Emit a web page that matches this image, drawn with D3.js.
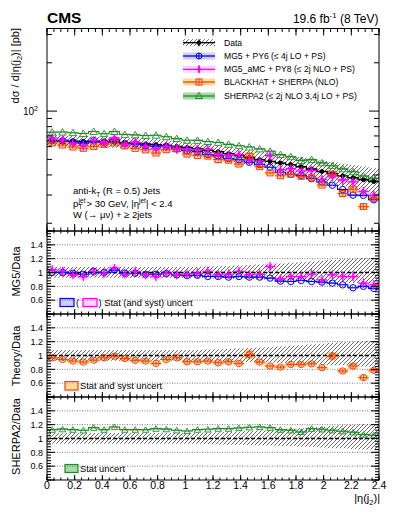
<!DOCTYPE html>
<html><head><meta charset="utf-8">
<script src="https://cdn.jsdelivr.net/npm/d3@7"></script>
<style>
body{margin:0;background:#fff}
text{font-family:"Liberation Sans",Arial,Helvetica,sans-serif;fill:#000}
</style>
</head><body>
<svg id="c" width="399" height="516"></svg>
<script>
// ---------------- DATA ----------------
const etaEdges = [0,0.075,0.15,0.225,0.3,0.375,0.45,0.525,0.6,0.675,0.75,0.825,0.9,0.975,1.05,1.125,1.2,1.275,1.35,1.425,1.5,1.575,1.65,1.725,1.8,1.875,1.95,2.025,2.1,2.175,2.25,2.325,2.4];
const dataXsec = [65.5,65.2,65.0,64.8,64.5,64.1,63.9,63.4,63.0,62.4,61.8,61.0,60.2,59.3,58.2,57.0,55.8,54.3,52.8,51.4,49.8,48.6,47.5,46.4,45.0,43.6,42.0,40.8,39.5,38.4,37.3,36.4];
const dataStat = [0.010,0.010,0.010,0.010,0.010,0.010,0.010,0.010,0.010,0.010,0.010,0.010,0.011,0.011,0.011,0.011,0.012,0.012,0.012,0.012,0.013,0.013,0.013,0.013,0.014,0.014,0.014,0.015,0.015,0.015,0.016,0.016];
const dataSystUp = [0.08,0.08,0.08,0.08,0.08,0.08,0.08,0.08,0.08,0.08,0.08,0.08,0.08,0.08,0.08,0.085,0.09,0.095,0.10,0.11,0.115,0.12,0.13,0.14,0.15,0.16,0.17,0.18,0.19,0.20,0.21,0.21];
const dataSystDn = [0.075,0.075,0.075,0.075,0.075,0.075,0.075,0.075,0.075,0.075,0.075,0.075,0.075,0.075,0.075,0.08,0.085,0.09,0.09,0.095,0.10,0.10,0.11,0.11,0.12,0.12,0.13,0.14,0.14,0.15,0.16,0.16];

const mg5Ratio = [1.0,1.0,0.99,0.975,1.015,1.0,1.035,0.99,0.99,0.975,0.975,0.985,0.965,0.955,0.96,0.942,0.942,0.933,0.942,0.933,0.933,0.919,0.875,0.87,0.884,0.87,0.861,0.846,0.822,0.78,0.80,0.77];
const mg5Stat = [0.012,0.012,0.012,0.012,0.012,0.012,0.012,0.012,0.012,0.012,0.013,0.013,0.013,0.013,0.013,0.014,0.014,0.014,0.014,0.015,0.015,0.015,0.015,0.016,0.016,0.016,0.017,0.017,0.018,0.018,0.019,0.02];

const amcRatio = [1.04,1.015,0.967,0.942,1.015,0.99,1.064,0.977,1.015,0.967,0.942,0.99,0.967,0.977,0.99,1.015,0.967,0.977,1.015,0.967,0.977,1.087,0.909,0.942,0.942,0.977,0.894,0.967,0.942,0.942,0.846,0.822];
const amcErr = [0.07,0.07,0.065,0.07,0.065,0.07,0.06,0.065,0.07,0.065,0.07,0.065,0.07,0.065,0.07,0.07,0.065,0.07,0.065,0.07,0.065,0.07,0.065,0.07,0.065,0.07,0.065,0.07,0.07,0.07,0.07,0.07];
const amcBand = [0.05,0.05,0.05,0.05,0.05,0.05,0.05,0.05,0.05,0.05,0.05,0.05,0.05,0.05,0.05,0.05,0.05,0.05,0.05,0.05,0.05,0.055,0.05,0.05,0.05,0.05,0.05,0.05,0.05,0.05,0.05,0.05];

const bhRatio = [0.967,0.943,0.919,0.905,0.933,0.967,0.99,0.957,0.93,0.919,0.886,0.943,0.967,0.91,0.91,0.919,0.895,0.91,0.886,1.014,0.905,0.848,0.833,0.871,0.871,0.88,0.824,0.99,0.776,0.848,0.681,0.786];
const bhErr = [0.025,0.025,0.025,0.025,0.025,0.025,0.025,0.025,0.025,0.025,0.025,0.025,0.025,0.025,0.025,0.025,0.025,0.025,0.025,0.07,0.025,0.025,0.025,0.025,0.025,0.025,0.025,0.06,0.03,0.04,0.04,0.03];
const bhBand = [0.035,0.035,0.035,0.035,0.035,0.035,0.035,0.035,0.035,0.035,0.035,0.035,0.035,0.035,0.035,0.035,0.035,0.035,0.035,0.07,0.035,0.035,0.035,0.035,0.035,0.035,0.035,0.06,0.035,0.045,0.04,0.035];

const sherpaRatio = [1.128,1.135,1.128,1.119,1.157,1.128,1.167,1.128,1.128,1.128,1.143,1.135,1.119,1.109,1.128,1.133,1.143,1.143,1.152,1.162,1.167,1.157,1.128,1.119,1.095,1.143,1.133,1.119,1.105,1.09,1.057,1.047];
const sherpaStat = [0.012,0.012,0.012,0.012,0.012,0.012,0.012,0.012,0.012,0.012,0.012,0.012,0.012,0.012,0.012,0.012,0.012,0.012,0.013,0.013,0.013,0.013,0.013,0.013,0.014,0.014,0.014,0.014,0.015,0.015,0.015,0.015];

const xTickVals = [0,0.2,0.4,0.6,0.8,1,1.2,1.4,1.6,1.8,2,2.2,2.4];
const xTickLabels = ["0","0.2","0.4","0.6","0.8","1","1.2","1.4","1.6","1.8","2","2.2","2.4"];
const ratioTickVals = [0.6,0.8,1,1.2,1.4];
const ratioTickLabels = ["0.6","0.8","1","1.2","1.4"];
const mainMinorY = [20,30,40,50,60,70,80,90,200,300];

const legendLabels = ["Data","MG5 + PY6 (\u2264 4j LO + PS)","MG5_aMC + PY8 (\u2264 2j NLO + PS)","BLACKHAT + SHERPA (NLO)","SHERPA2 (\u2264 2j NLO 3,4j LO + PS)"];

// ---------------- STYLE ----------------
const C = {
  blue:"#0000ff", blueBand:"rgba(120,130,255,0.38)",
  mag:"#ff00ff", magBand:"rgba(255,120,255,0.30)",
  orange:"#ff3b10", orangeBand:"rgba(255,190,60,0.55)",
  green:"#22882a", greenBand:"rgba(60,170,60,0.45)"
};

const svg = d3.select("#c");
const X0 = 47, X1 = 379;
const x = d3.scaleLinear([0,2.4],[X0,X1]);
const mainP = {top:28.5, bottom:231};
const yM = d3.scaleLog([17.9,327],[mainP.bottom, mainP.top]);
const panels = [{top:231,bottom:314},{top:314,bottom:397},{top:397,bottom:480}];
panels.forEach(p => p.y = d3.scaleLinear([0.4,1.6],[p.bottom,p.top]));

const defs = svg.append("defs");
const pat = defs.append("pattern").attr("id","hatch").attr("patternUnits","userSpaceOnUse").attr("width",4).attr("height",4);
pat.append("path").attr("d","M-1,1 l2,-2 M0,4 l4,-4 M3,5 l2,-2").attr("stroke","#3a3a3a").attr("stroke-width",0.75);

function clip(id, top, bottom){
  defs.append("clipPath").attr("id",id).append("rect").attr("x",X0).attr("y",top).attr("width",X1-X0).attr("height",bottom-top);
}
clip("cm", mainP.top, mainP.bottom);
panels.forEach((p,i)=>clip("cp"+i, p.top, p.bottom));

const nb = dataXsec.length;
const centers = d3.range(nb).map(i => (etaEdges[i]+etaEdges[i+1])/2);

function stepPath(y, vals){
  const pts = [];
  vals.forEach((v,i)=>{ pts.push([x(etaEdges[i]), y(v)]); pts.push([x(etaEdges[i+1]), y(v)]); });
  return d3.line()(pts);
}
function bandPath(y, lo, hi){
  const pts = [];
  lo.forEach((l,i)=>{ pts.push({a:etaEdges[i], l, h:hi[i]}); pts.push({a:etaEdges[i+1], l, h:hi[i]}); });
  return d3.area().x(d=>x(d.a)).y0(d=>y(d.l)).y1(d=>y(d.h))(pts);
}

// derived series
const mg5 = dataXsec.map((d,i)=>d*mg5Ratio[i]);
const amc = dataXsec.map((d,i)=>d*amcRatio[i]);
const bh = dataXsec.map((d,i)=>d*bhRatio[i]);
const sherpa = dataXsec.map((d,i)=>d*sherpaRatio[i]);

// ---------- helpers for marks ----------
function errBars(g, y, vals, errLo, errHi, color, w, withH){
  const s = g.append("g").attr("stroke",color).attr("stroke-width",w);
  vals.forEach((v,i)=>{
    s.append("line").attr("x1",x(centers[i])).attr("x2",x(centers[i])).attr("y1",y(errLo[i])).attr("y2",y(errHi[i]));
    if(withH) s.append("line").attr("x1",x(etaEdges[i])).attr("x2",x(etaEdges[i+1])).attr("y1",y(v)).attr("y2",y(v));
  });
}
function circles(g, y, vals, color, r, fill){
  g.append("g").selectAll("circle").data(vals).join("circle")
    .attr("cx",(d,i)=>x(centers[i])).attr("cy",d=>y(d)).attr("r",r)
    .attr("fill",fill).attr("stroke",color).attr("stroke-width",1);
}
function squares(g, y, vals, color, s){
  g.append("g").selectAll("rect").data(vals).join("rect")
    .attr("x",(d,i)=>x(centers[i])-s/2).attr("y",d=>y(d)-s/2).attr("width",s).attr("height",s)
    .attr("fill","none").attr("stroke",color).attr("stroke-width",1);
}
function triangles(g, y, vals, color, size){
  const sym = d3.symbol(d3.symbolTriangle).size(size);
  g.append("g").selectAll("path").data(vals).join("path")
    .attr("d",sym).attr("transform",(d,i)=>`translate(${x(centers[i])},${y(d)+0.8})`)
    .attr("fill","none").attr("stroke",color).attr("stroke-width",0.9);
}
function diamonds(g, y, vals, color, size){
  const sym = d3.symbol(d3.symbolDiamond).size(size);
  g.append("g").selectAll("path").data(vals).join("path")
    .attr("d",sym).attr("transform",(d,i)=>`translate(${x(centers[i])},${y(d)})`)
    .attr("fill",color);
}

// ---------------- MAIN PANEL ----------------
const gm = svg.append("g").attr("clip-path","url(#cm)");
gm.append("path").attr("d",bandPath(yM, mg5.map((v,i)=>v*(1-mg5Stat[i])), mg5.map((v,i)=>v*(1+mg5Stat[i])))).attr("fill",C.blueBand);
gm.append("path").attr("d",bandPath(yM, amc.map((v,i)=>v*(1-amcBand[i])), amc.map((v,i)=>v*(1+amcBand[i])))).attr("fill",C.magBand);
gm.append("path").attr("d",bandPath(yM, bh.map((v,i)=>v*(1-bhBand[i])), bh.map((v,i)=>v*(1+bhBand[i])))).attr("fill",C.orangeBand);
gm.append("path").attr("d",bandPath(yM, sherpa.map((v,i)=>v*(1-sherpaStat[i])), sherpa.map((v,i)=>v*(1+sherpaStat[i])))).attr("fill",C.greenBand);
gm.append("path").attr("d",bandPath(yM, dataXsec.map((v,i)=>v*(1-dataSystDn[i])), dataXsec.map((v,i)=>v*(1+dataSystUp[i])))).attr("fill","url(#hatch)");

gm.append("path").attr("d",stepPath(yM, sherpa)).attr("fill","none").attr("stroke",C.green).attr("stroke-width",1.1);
triangles(gm, yM, sherpa, C.green, 24);
gm.append("path").attr("d",stepPath(yM, dataXsec)).attr("fill","none").attr("stroke","#000").attr("stroke-width",1.4);
errBars(gm, yM, dataXsec, dataXsec.map((v,i)=>v*(1-dataStat[i])), dataXsec.map((v,i)=>v*(1+dataStat[i])), "#000", 1.2, false);
circles(gm, yM, dataXsec, "#000", 2, "#000");
gm.append("path").attr("d",stepPath(yM, mg5)).attr("fill","none").attr("stroke",C.blue).attr("stroke-width",1.1);
circles(gm, yM, mg5, C.blue, 3.2, "none");
errBars(gm, yM, bh, bh.map((v,i)=>v*(1-bhErr[i])), bh.map((v,i)=>v*(1+bhErr[i])), C.orange, 1, true);
squares(gm, yM, bh, C.orange, 6);
errBars(gm, yM, amc, amc.map((v,i)=>v*(1-amcErr[i])), amc.map((v,i)=>v*(1+amcErr[i])), C.mag, 1.3, true);
diamonds(gm, yM, amc, C.mag, 14);

// ---------------- RATIO PANELS ----------------
function ratioPanel(idx){
  const p = panels[idx];
  const g = svg.append("g").attr("clip-path",`url(#cp${idx})`);
  return {g, y:p.y, p};
}
function gridAndHatch(rp){
  const {g,y} = rp;
  const gg = g.append("g");
  [0.6,0.8,1.2,1.4].forEach(v=>{
    gg.append("line").attr("x1",X0).attr("x2",X1).attr("y1",y(v)).attr("y2",y(v)).attr("stroke","#777").attr("stroke-width",1).attr("stroke-dasharray","1,1.5");
  });
}
function hatchAndOne(rp){
  const {g,y} = rp;
  g.append("path").attr("d",bandPath(y, dataSystDn.map(v=>1-v), dataSystUp.map(v=>1+v))).attr("fill","url(#hatch)");
  g.append("line").attr("x1",X0).attr("x2",X1).attr("y1",y(1)).attr("y2",y(1)).attr("stroke","#000").attr("stroke-width",1.4).attr("stroke-dasharray","4,2");
}

// Panel 1: MG5
{
  const rp = ratioPanel(0); const {g,y} = rp;
  gridAndHatch(rp);
  g.append("path").attr("d",bandPath(y, amcRatio.map((v,i)=>v-amcBand[i]), amcRatio.map((v,i)=>v+amcBand[i]))).attr("fill",C.magBand);
  g.append("path").attr("d",bandPath(y, mg5Ratio.map((v,i)=>v-mg5Stat[i]), mg5Ratio.map((v,i)=>v+mg5Stat[i]))).attr("fill",C.blueBand);
  hatchAndOne(rp);
  g.append("path").attr("d",stepPath(y, mg5Ratio)).attr("fill","none").attr("stroke",C.blue).attr("stroke-width",1.1);
  circles(g, y, mg5Ratio, C.blue, 3.2, "none");
  errBars(g, y, amcRatio, amcRatio.map((v,i)=>v-amcErr[i]), amcRatio.map((v,i)=>v+amcErr[i]), C.mag, 1.2, true);
  diamonds(g, y, amcRatio, C.mag, 10);
}
// Panel 2: Blackhat
{
  const rp = ratioPanel(1); const {g,y} = rp;
  gridAndHatch(rp);
  g.append("path").attr("d",bandPath(y, bhRatio.map((v,i)=>v-bhBand[i]), bhRatio.map((v,i)=>v+bhBand[i]))).attr("fill",C.orangeBand);
  hatchAndOne(rp);
  errBars(g, y, bhRatio, bhRatio.map((v,i)=>v-bhErr[i]), bhRatio.map((v,i)=>v+bhErr[i]), C.orange, 1, true);
  circles(g, y, bhRatio, C.orange, 3.2, "none");
}
// Panel 3: Sherpa2
{
  const rp = ratioPanel(2); const {g,y} = rp;
  gridAndHatch(rp);
  g.append("path").attr("d",bandPath(y, sherpaRatio.map((v,i)=>v-sherpaStat[i]), sherpaRatio.map((v,i)=>v+sherpaStat[i]))).attr("fill",C.greenBand);
  hatchAndOne(rp);
  g.append("path").attr("d",stepPath(y, sherpaRatio)).attr("fill","none").attr("stroke",C.green).attr("stroke-width",1.1);
  triangles(g, y, sherpaRatio, C.green, 18);
}

// ---------------- AXES / FRAMES ----------------
const ax = svg.append("g").attr("stroke","#000").attr("stroke-width",1);
const minorX = d3.range(0, 2.4001, 0.05);
function xTicks(top, bottom, maj, min){
  minorX.forEach(v=>{
    ax.append("line").attr("x1",x(v)).attr("x2",x(v)).attr("y1",bottom).attr("y2",bottom-min);
    ax.append("line").attr("x1",x(v)).attr("x2",x(v)).attr("y1",top).attr("y2",top+min);
  });
  xTickVals.forEach(v=>{
    ax.append("line").attr("x1",x(v)).attr("x2",x(v)).attr("y1",bottom).attr("y2",bottom-maj);
    ax.append("line").attr("x1",x(v)).attr("x2",x(v)).attr("y1",top).attr("y2",top+maj);
  });
}
function yTick(yy, len){
  ax.append("line").attr("x1",X0).attr("x2",X0+len).attr("y1",yy).attr("y2",yy);
  ax.append("line").attr("x1",X1).attr("x2",X1-len).attr("y1",yy).attr("y2",yy);
}
// main
xTicks(mainP.top, mainP.bottom, 7, 3.5);
yTick(yM(100), 10);
mainMinorY.forEach(v=>yTick(yM(v),5));
// ratio
const minorR = d3.range(0.4, 1.6001, 0.04);
panels.forEach(p=>{
  xTicks(p.top, p.bottom, 5, 2.5);
  minorR.forEach(v=>yTick(p.y(v),4));
  [0.4,0.6,0.8,1,1.2,1.4,1.6].forEach(v=>yTick(p.y(v),8));
});
// frames
[mainP, ...panels].forEach(p=>{
  svg.append("rect").attr("x",X0).attr("y",p.top).attr("width",X1-X0).attr("height",p.bottom-p.top)
    .attr("fill","none").attr("stroke","#000").attr("stroke-width",1);
});

// tick labels
const tl = svg.append("g");
panels.forEach(p=>{
  ratioTickVals.forEach((v,i)=>{
    tl.append("text").attr("x",43).attr("y",p.y(v)+3.2).attr("text-anchor","end").attr("font-size",9).text(ratioTickLabels[i]);
  });
});
xTickVals.forEach((v,i)=>{
  tl.append("text").attr("x",x(v)).attr("y",489).attr("text-anchor","middle").attr("font-size",10.5).text(xTickLabels[i]);
});
{
  const t = tl.append("text").attr("x",38).attr("y",yM(100)+3.5).attr("text-anchor","end").attr("font-size",10);
  t.append("tspan").text("10");
  t.append("tspan").attr("dy",-4).attr("font-size",7).text("2");
}

// axis titles
{
  const t = svg.append("text").attr("transform","translate(19,28) rotate(-90)").attr("text-anchor","end").attr("font-size",11);
  t.append("tspan").text("d\u03c3 / d|\u03b7(j");
  t.append("tspan").attr("dy",2.5).attr("font-size",7.5).text("2");
  t.append("tspan").attr("dy",-2.5).text(")|  [pb]");
}
[["MG5/Data",271.5],["Theory/Data",356],["SHERPA2/Data",436.5]].forEach(([s,c])=>{
  svg.append("text").attr("transform",`translate(20,${c}) rotate(-90)`).attr("text-anchor","middle").attr("font-size",11).text(s);
});
{
  const t = svg.append("text").attr("x",380).attr("y",502).attr("text-anchor","end").attr("font-size",11);
  t.append("tspan").text("|\u03b7(j");
  t.append("tspan").attr("dy",3).attr("font-size",7.5).text("2");
  t.append("tspan").attr("dy",-3).text(")|");
}

// header
svg.append("text").attr("x",47).attr("y",22.5).attr("font-size",15.5).attr("font-weight","bold").text("CMS");
{
  const t = svg.append("text").attr("x",378.5).attr("y",23).attr("text-anchor","end").attr("font-size",12);
  t.append("tspan").text("19.6 fb");
  t.append("tspan").attr("dy",-5).attr("font-size",8).text("-1");
  t.append("tspan").attr("dy",5).text(" (8 TeV)");
}

// annotation
{
  const fs = 9.5;
  const t1 = svg.append("text").attr("x",73).attr("y",194.3).attr("font-size",fs);
  t1.append("tspan").text("anti-k");
  t1.append("tspan").attr("dy",2.5).attr("font-size",6.5).text("T");
  t1.append("tspan").attr("dy",-2.5).text(" (R = 0.5) Jets");
  const t2 = svg.append("text").attr("x",73).attr("y",206.7).attr("font-size",fs);
  t2.append("tspan").text("p");
  t2.append("tspan").attr("x",78.6).attr("dy",-4).attr("font-size",6.5).text("jet");
  t2.append("tspan").attr("x",78.6).attr("dy",6.5).attr("font-size",6.5).text("T");
  t2.append("tspan").attr("x",86.5).attr("dy",-2.5).text("> 30 GeV, |\u03b7");
  t2.append("tspan").attr("dy",-4).attr("font-size",6.5).text("jet");
  t2.append("tspan").attr("dy",4).text("| < 2.4");
  svg.append("text").attr("x",73).attr("y",218.3).attr("font-size",fs).text("W (\u2192 \u03bc\u03bd) + \u2265 2jets");
}

// legend (main)
{
  const rows = [42.7,56,69.3,82,96];
  const lx0 = 183, lx1 = 215, lc = 199;
  const lg = svg.append("g");
  const fills = ["url(#hatch)", C.blueBand, C.magBand, C.orangeBand, C.greenBand];
  const cols = ["#000", C.blue, C.mag, C.orange, C.green];
  rows.forEach((ry,i)=>{
    lg.append("rect").attr("x",lx0).attr("y",ry-3.5).attr("width",lx1-lx0).attr("height",7).attr("fill",fills[i]);
    lg.append("line").attr("x1",lx0).attr("x2",lx1).attr("y1",ry).attr("y2",ry).attr("stroke",cols[i]).attr("stroke-width",1.3);
    lg.append("text").attr("x",224).attr("y",ry+3).attr("font-size",8.6).text(legendLabels[i]);
  });
  lg.append("circle").attr("cx",lc).attr("cy",rows[0]).attr("r",2.2).attr("fill","#000");
  lg.append("line").attr("x1",lc).attr("x2",lc).attr("y1",rows[0]-3.5).attr("y2",rows[0]+3.5).attr("stroke","#000").attr("stroke-width",1.2);
  lg.append("circle").attr("cx",lc).attr("cy",rows[1]).attr("r",3).attr("fill","none").attr("stroke",C.blue);
  lg.append("line").attr("x1",lc).attr("x2",lc).attr("y1",rows[1]-3).attr("y2",rows[1]+3).attr("stroke",C.blue);
  lg.append("line").attr("x1",lc).attr("x2",lc).attr("y1",rows[2]-4).attr("y2",rows[2]+4).attr("stroke",C.mag).attr("stroke-width",1.5);
  lg.append("path").attr("d",d3.symbol(d3.symbolDiamond).size(14)()).attr("transform",`translate(${lc},${rows[2]})`).attr("fill",C.mag);
  lg.append("rect").attr("x",lc-3).attr("y",rows[3]-3).attr("width",6).attr("height",6).attr("fill","none").attr("stroke",C.orange);
  lg.append("line").attr("x1",lc).attr("x2",lc).attr("y1",rows[3]-3.5).attr("y2",rows[3]+3.5).attr("stroke",C.orange);
  lg.append("path").attr("d",d3.symbol(d3.symbolTriangle).size(22)()).attr("transform",`translate(${lc},${rows[4]+0.5})`).attr("fill","none").attr("stroke",C.green);
}

// ratio legends
{
  const fs = 9.3;
  svg.append("rect").attr("x",60).attr("y",298.5).attr("width",14).attr("height",8).attr("fill",C.blueBand).attr("stroke",C.blue).attr("stroke-width",1.2);
  svg.append("text").attr("x",76).attr("y",305.5).attr("font-size",fs).text("(");
  svg.append("rect").attr("x",83).attr("y",298.5).attr("width",14).attr("height",8).attr("fill",C.magBand).attr("stroke",C.mag).attr("stroke-width",1.2);
  svg.append("text").attr("x",98.5).attr("y",305.5).attr("font-size",fs).text(") Stat (and syst) uncert");
  svg.append("rect").attr("x",65).attr("y",381.5).attr("width",13).attr("height",8.5).attr("fill",C.orangeBand).attr("stroke",C.orange).attr("stroke-width",1.2);
  svg.append("text").attr("x",80).attr("y",389).attr("font-size",fs).text("Stat and syst uncert");
  svg.append("rect").attr("x",65).attr("y",464.5).attr("width",13).attr("height",8).attr("fill",C.greenBand).attr("stroke",C.green).attr("stroke-width",1.2);
  svg.append("text").attr("x",80).attr("y",471.5).attr("font-size",fs).text("Stat uncert");
}
</script>
</body></html>
